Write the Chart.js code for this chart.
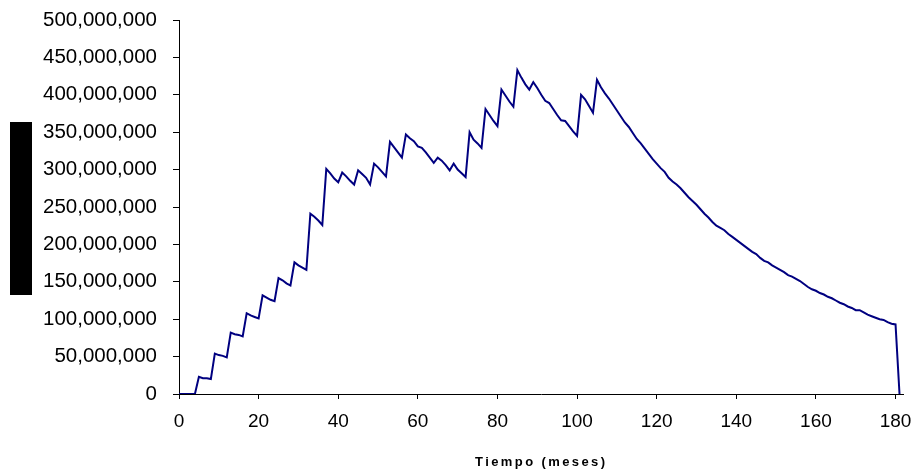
<!DOCTYPE html>
<html>
<head>
<meta charset="utf-8">
<script src="https://cdn.jsdelivr.net/npm/chart.js@4.4.1/dist/chart.umd.min.js"></script>
<style>
  html, body { margin: 0; padding: 0; background: #ffffff; }
  #wrap { position: relative; width: 917px; height: 473px; }
  #yblock { position: absolute; left: 10px; top: 122px; width: 22px; height: 173px; background: #000000; }
</style>
</head>
<body>
<div id="wrap">
  <canvas id="c" width="917" height="473"></canvas>
  <div id="yblock"></div>
</div>
<script>
// Month index (x) and value in millions (y)
const months = [];
for (let m = 0; m <= 181; m++) months.push(m);

const valuesMillions = [
  0, 0, 0, 0, 0,            // 0-4
  23, 21, 21, 20,           // 5-8
  54, 52, 51, 49,           // 9-12
  82, 80, 79, 77,           // 13-16
  108, 105, 103, 101,       // 17-20
  132, 129, 126, 124,       // 21-24
  155, 152, 148, 145,       // 25-28
  176, 172, 169, 166,       // 29-32
  241, 237, 232, 226,       // 33-36
  301, 295, 288, 283,       // 37-40
  296, 291, 285, 280,       // 41-44
  299, 294, 289, 280,       // 45-48
  308, 303, 297, 291,       // 49-52
  337, 330, 323, 316,       // 53-56
  347, 342, 338, 331, 329, 323, 316, 309, // 57-64
  316, 312, 306, 299, 308, 300, 295, 290, // 65-72
  350, 340, 335, 329,       // 73-76
  381, 373, 365, 358,       // 77-80
  407, 399, 391, 384,       // 81-84
  433, 423, 414, 407,       // 85-88
  417, 409, 400, 392,       // 89-92
  389, 381, 373, 366,       // 93-96
  365, 358, 351, 345,       // 97-100
  400, 394, 385, 376,       // 101-104
  420, 410, 402, 395, 387, 379, 371, 363, 357, 349, // 105-114
  341, 335, 328, 321, 314, 308, 302, 297, 289, 284, // 115-124
  280, 275, 269, 263, 258, 253, 247, 241, 236, 230, // 125-134
  225, 222, 219, 214, 210, 206, 202, 198, 194, 190, // 135-144
  187, 182, 178, 176, 172, 169, 166, 163, 159, 157, // 145-154
  154, 151, 147, 143, 140, 138, 135, 133, 130, 128, // 155-164
  125, 122, 120, 117, 115, 112, 112, 109, 106, 104, // 165-174
  102, 100, 99, 96, 94, 93, 0                       // 175-181
];

const xTickValues = [0, 20, 40, 60, 80, 100, 120, 140, 160, 180];
const yTickValues = [0, 50e6, 100e6, 150e6, 200e6, 250e6, 300e6, 350e6, 400e6, 450e6, 500e6];
const xTitle = 'Tiempo (meses)';

const points = months.map((m, i) => ({ x: m, y: valuesMillions[i] * 1e6 }));

const FONT = "'Liberation Sans', Arial, sans-serif";

function zeroPadding(s) {
  s.paddingTop = 0; s.paddingBottom = 0; s.paddingLeft = 0; s.paddingRight = 0;
}

// Letter-spaced x-axis title, as in the reference
const spacedTitle = {
  id: 'spacedTitle',
  beforeDraw(chart) {
    const s = chart.scales.x;
    if (s && !s._spacedWrapped) {
      const orig = s.drawTitle;
      s.drawTitle = function () {
        const ctx = this.ctx;
        const prev = ctx.letterSpacing;
        ctx.letterSpacing = '2.4px';
        orig.apply(this, arguments);
        ctx.letterSpacing = prev || '0px';
      };
      s._spacedWrapped = true;
    }
  }
};

new Chart(document.getElementById('c'), {
  type: 'line',
  data: {
    datasets: [{
      data: points,
      borderColor: '#000080',
      borderWidth: 2,
      pointRadius: 0,
      tension: 0,
      fill: false
    }]
  },
  options: {
    responsive: false,
    animation: false,
    layout: { padding: { left: 0, right: 13.5, top: 20, bottom: 0 } },
    plugins: { legend: { display: false }, tooltip: { enabled: false } },
    scales: {
      x: {
        type: 'linear',
        min: 0,
        max: 182,
        afterFit: (s) => { s.height = 79; zeroPadding(s); },
        afterBuildTicks: (s) => { s.ticks = xTickValues.map(v => ({ value: v })); },
        ticks: {
          color: '#000000',
          font: { family: FONT, size: 19 },
          padding: 11,
          maxRotation: 0,
          autoSkip: false,
          callback: (v) => String(v)
        },
        grid: { drawOnChartArea: false, drawTicks: true, tickLength: 5, color: '#000000', lineWidth: 1 },
        border: { color: '#000000', width: 1 },
        title: {
          display: true,
          text: xTitle,
          color: '#000000',
          font: { family: FONT, size: 13, weight: 'bold' },
          padding: { top: 0, bottom: 3 }
        }
      },
      y: {
        min: 0,
        max: 500e6,
        afterFit: (s) => { s.width = 179; zeroPadding(s); },
        afterBuildTicks: (s) => { s.ticks = yTickValues.map(v => ({ value: v })); },
        ticks: {
          color: '#000000',
          font: { family: FONT, size: 20.5 },
          padding: 16,
          autoSkip: false,
          callback: (v) => Number(v).toLocaleString('en-US')
        },
        grid: { drawOnChartArea: false, drawTicks: true, tickLength: 6, color: '#000000', lineWidth: 1 },
        border: { color: '#000000', width: 1 }
      }
    }
  },
  plugins: [spacedTitle]
});
</script>
</body>
</html>
